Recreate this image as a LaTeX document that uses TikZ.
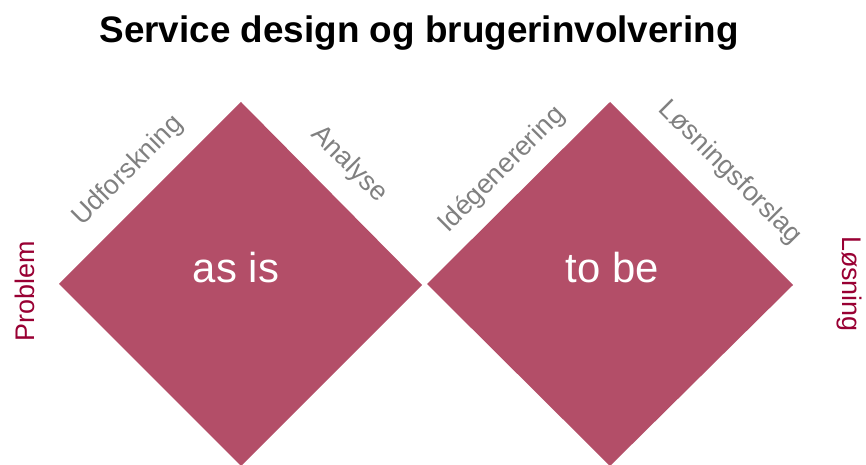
\documentclass[tikz,border=0pt]{standalone}
\usepackage{fontspec}
\setmainfont{Liberation Sans}
\definecolor{petal}{RGB}{179,78,104}
\definecolor{wine}{RGB}{153,0,51}
\definecolor{stepgray}{RGB}{128,128,128}
\begin{document}
\begin{tikzpicture}[x=1bp,y=-1bp,
  phase/.style={fill=petal},
  inside/.style={text=white,inner sep=0,anchor=base,font=\fontsize{42}{46}\selectfont},
  steplabel/.style={text=stepgray,inner sep=0,font=\fontsize{27}{30}\selectfont},
  endlabel/.style={text=wine,inner sep=0,anchor=base,font=\fontsize{27}{30}\selectfont}]
\useasboundingbox (0,0) rectangle (866,465);

% title
\node[inner sep=0,anchor=base,font=\fontsize{37}{40}\selectfont\bfseries] (title) at (419,43)
  {Service design og brugerinvolvering};

% the two diamonds
\fill[phase] (59,284) -- (241,102) -- (422,285) -- (241,466) -- cycle;
\fill[phase] (427,284) -- (610,102) -- (793,285) -- (610,466) -- cycle;

\node[inside] (asis) at (236,283) {as is};
\node[inside] (tobe) at (612.5,283) {to be};

% phase labels along the upper edges
\node[steplabel,rotate=45]  (udf) at (128,171)   {Udforskning};
\node[steplabel,rotate=-45] (ana) at (349,164.5) {Analyse};
\node[steplabel,rotate=45]  (ide) at (502,170)   {Idégenerering};
\node[steplabel,rotate=-45] (los) at (730,173)   {Løsningsforslag};

% start and end
\node[endlabel,rotate=90]  (prob) at (34,291)  {Problem};
\node[endlabel,rotate=-90] (sol)  at (842,284) {Løsning};
\end{tikzpicture}
\end{document}
